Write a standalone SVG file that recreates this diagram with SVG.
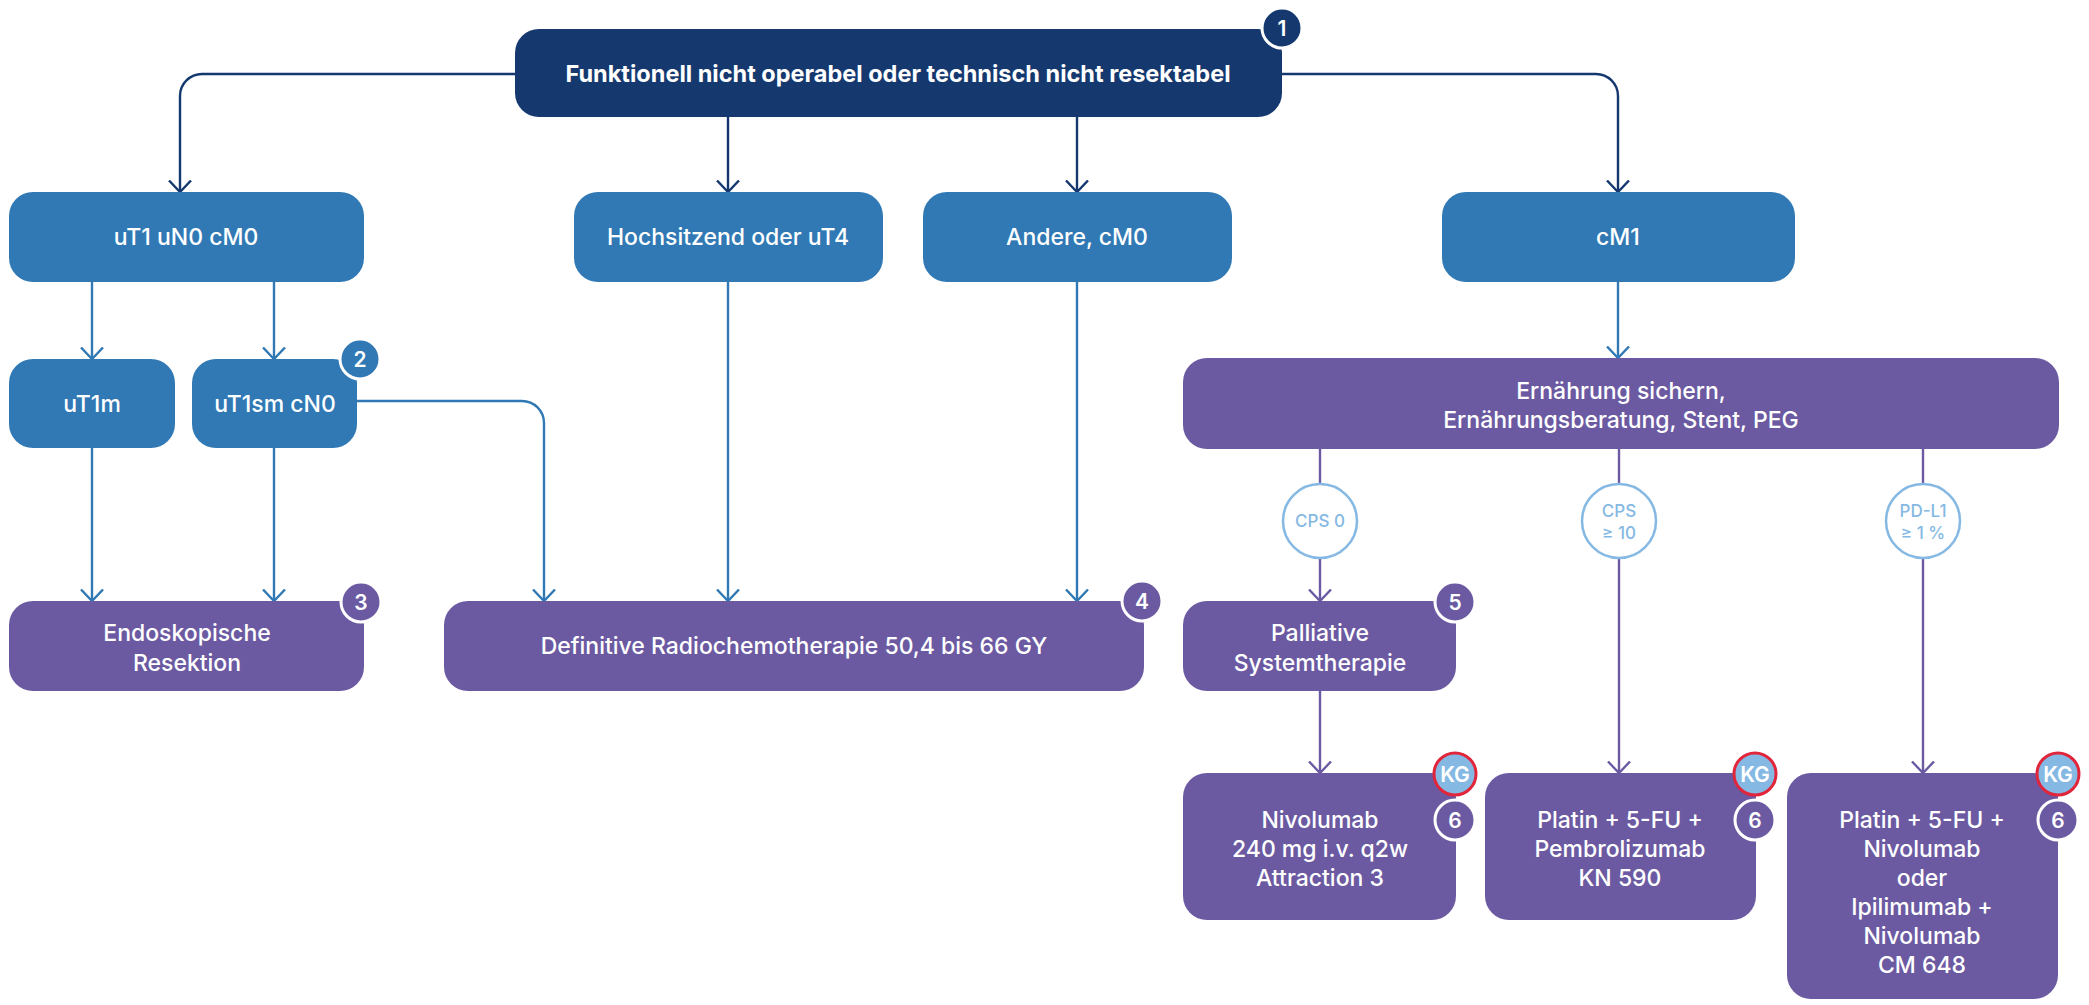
<svg xmlns="http://www.w3.org/2000/svg" width="2089" height="1005" viewBox="0 0 2089 1005">
<defs>
<style>
.t{font-family:Inter,"Liberation Sans",sans-serif;font-size:23px;font-weight:500;fill:#fff;text-anchor:middle}
.tb{font-family:Inter,"Liberation Sans",sans-serif;font-size:23.5px;font-weight:700;fill:#fff;text-anchor:middle}
.navy{fill:#15396f}
.blue{fill:#3079b4}
.purple{fill:#6b5aa2}
.c{fill:none;stroke-width:2.4}
.cn{stroke:#15396f}
.cb{stroke:#3079b4}
.cp{stroke:#6b5aa2}
.bdg{stroke:#fff;stroke-width:3}
.bt{font-family:Inter,"Liberation Sans",sans-serif;font-size:21px;font-weight:600;fill:#fff;text-anchor:middle}
.kg{fill:#85b9e3;stroke:#e1253b;stroke-width:3}
.circ{fill:#fff;stroke:#85b9e3;stroke-width:2.5}
.ct{font-family:Inter,"Liberation Sans",sans-serif;font-size:17px;font-weight:500;fill:#85b9e3;text-anchor:middle}
</style>
<marker id="an" viewBox="0 0 14 24" refX="12.5" refY="12" markerWidth="14" markerHeight="24" markerUnits="userSpaceOnUse" orient="auto"><path d="M1,1 L12.5,12 L1,23" fill="none" stroke="#15396f" stroke-width="2.4"/></marker>
<marker id="ab" viewBox="0 0 14 24" refX="12.5" refY="12" markerWidth="14" markerHeight="24" markerUnits="userSpaceOnUse" orient="auto"><path d="M1,1 L12.5,12 L1,23" fill="none" stroke="#3079b4" stroke-width="2.4"/></marker>
<marker id="ap" viewBox="0 0 14 24" refX="12.5" refY="12" markerWidth="14" markerHeight="24" markerUnits="userSpaceOnUse" orient="auto"><path d="M1,1 L12.5,12 L1,23" fill="none" stroke="#6b5aa2" stroke-width="2.4"/></marker>
</defs>
<rect width="2089" height="1005" fill="#fff"/>

<g id="connectors">
<path class="c cn" d="M515,74 H202 A22,22 0 0 0 180,96 V192" marker-end="url(#an)"/>
<path class="c cn" d="M1282,74 H1596 A22,22 0 0 1 1618,96 V192" marker-end="url(#an)"/>
<path class="c cn" d="M728,117 V192" marker-end="url(#an)"/>
<path class="c cn" d="M1077,117 V192" marker-end="url(#an)"/>
<path class="c cb" d="M92,282 V359" marker-end="url(#ab)"/>
<path class="c cb" d="M274,282 V359" marker-end="url(#ab)"/>
<path class="c cb" d="M92,448 V601" marker-end="url(#ab)"/>
<path class="c cb" d="M274,448 V601" marker-end="url(#ab)"/>
<path class="c cb" d="M357,401 H522 A22,22 0 0 1 544,423 V601" marker-end="url(#ab)"/>
<path class="c cb" d="M728,282 V601" marker-end="url(#ab)"/>
<path class="c cb" d="M1077,282 V601" marker-end="url(#ab)"/>
<path class="c cb" d="M1618,282 V358" marker-end="url(#ab)"/>
<path class="c cp" d="M1320,449 V484"/>
<path class="c cp" d="M1320,558 V601" marker-end="url(#ap)"/>
<path class="c cp" d="M1619,449 V484"/>
<path class="c cp" d="M1619,558 V773" marker-end="url(#ap)"/>
<path class="c cp" d="M1923,449 V484"/>
<path class="c cp" d="M1923,558 V773" marker-end="url(#ap)"/>
<path class="c cp" d="M1320,691 V773" marker-end="url(#ap)"/>
</g>

<g id="n-top">
<rect class="navy" x="515" y="29" width="767" height="88" rx="24"/>
<text class="tb" x="898" y="82">Funktionell nicht operabel oder technisch nicht resektabel</text>
<circle class="navy bdg" cx="1282" cy="28" r="20"/>
<text class="bt" x="1282" y="36">1</text>
</g>

<g id="n-ut1">
<rect class="blue" x="9" y="192" width="355" height="90" rx="24"/>
<text class="t" x="186" y="245">uT1 uN0 cM0</text>
</g>
<g id="n-hoch">
<rect class="blue" x="574" y="192" width="309" height="90" rx="24"/>
<text class="t" x="728" y="245">Hochsitzend oder uT4</text>
</g>
<g id="n-andere">
<rect class="blue" x="923" y="192" width="309" height="90" rx="24"/>
<text class="t" x="1077" y="245">Andere, cM0</text>
</g>
<g id="n-cm1">
<rect class="blue" x="1442" y="192" width="353" height="90" rx="24"/>
<text class="t" x="1618" y="245">cM1</text>
</g>

<g id="n-ut1m">
<rect class="blue" x="9" y="359" width="166" height="89" rx="24"/>
<text class="t" x="92" y="412">uT1m</text>
</g>
<g id="n-ut1sm">
<rect class="blue" x="192" y="359" width="165" height="89" rx="24"/>
<text class="t" x="275" y="412">uT1sm cN0</text>
<circle class="blue bdg" cx="360" cy="359" r="20"/>
<text class="bt" x="360" y="367">2</text>
</g>

<g id="n-endo">
<rect class="purple" x="9" y="601" width="355" height="90" rx="24"/>
<text class="t" x="187" y="641">Endoskopische</text>
<text class="t" x="187" y="671">Resektion</text>
<circle class="purple bdg" cx="361" cy="602" r="20"/>
<text class="bt" x="361" y="610">3</text>
</g>

<g id="n-def">
<rect class="purple" x="444" y="601" width="700" height="90" rx="24"/>
<text class="t" x="794" y="654">Definitive Radiochemotherapie 50,4 bis 66 GY</text>
<circle class="purple bdg" cx="1142" cy="601" r="20"/>
<text class="bt" x="1142" y="609">4</text>
</g>

<g id="n-ern">
<rect class="purple" x="1183" y="358" width="876" height="91" rx="24"/>
<text class="t" x="1621" y="399">Ernährung sichern,</text>
<text class="t" x="1621" y="428">Ernährungsberatung, Stent, PEG</text>
</g>

<g id="c-cps0">
<circle class="circ" cx="1320" cy="521" r="37"/>
<text class="ct" x="1320" y="527">CPS 0</text>
</g>
<g id="c-cps10">
<circle class="circ" cx="1619" cy="521" r="37"/>
<text class="ct" x="1619" y="517">CPS</text>
<text class="ct" x="1619" y="539">≥ 10</text>
</g>
<g id="c-pdl1">
<circle class="circ" cx="1923" cy="521" r="37"/>
<text class="ct" x="1923" y="517">PD-L1</text>
<text class="ct" x="1923" y="539">≥ 1 %</text>
</g>

<g id="n-pall">
<rect class="purple" x="1183" y="601" width="273" height="90" rx="24"/>
<text class="t" x="1320" y="641">Palliative</text>
<text class="t" x="1320" y="671">Systemtherapie</text>
<circle class="purple bdg" cx="1455" cy="602" r="20"/>
<text class="bt" x="1455" y="610">5</text>
</g>

<g id="n-nivo">
<rect class="purple" x="1183" y="773" width="273" height="147" rx="24"/>
<text class="t" x="1320" y="828">Nivolumab</text>
<text class="t" x="1320" y="857">240 mg i.v. q2w</text>
<text class="t" x="1320" y="886">Attraction 3</text>
<circle class="kg" cx="1455" cy="774" r="21"/>
<text class="bt" x="1455" y="782">KG</text>
<circle class="purple bdg" cx="1455" cy="820" r="20"/>
<text class="bt" x="1455" y="828">6</text>
</g>

<g id="n-pembro">
<rect class="purple" x="1485" y="773" width="271" height="147" rx="24"/>
<text class="t" x="1620" y="828">Platin + 5-FU +</text>
<text class="t" x="1620" y="857">Pembrolizumab</text>
<text class="t" x="1620" y="886">KN 590</text>
<circle class="kg" cx="1755" cy="774" r="21"/>
<text class="bt" x="1755" y="782">KG</text>
<circle class="purple bdg" cx="1755" cy="820" r="20"/>
<text class="bt" x="1755" y="828">6</text>
</g>

<g id="n-cm648">
<rect class="purple" x="1787" y="773" width="271" height="226" rx="24"/>
<text class="t" x="1922" y="828">Platin + 5-FU +</text>
<text class="t" x="1922" y="857">Nivolumab</text>
<text class="t" x="1922" y="886">oder</text>
<text class="t" x="1922" y="915">Ipilimumab +</text>
<text class="t" x="1922" y="944">Nivolumab</text>
<text class="t" x="1922" y="973">CM 648</text>
<circle class="kg" cx="2058" cy="774" r="21"/>
<text class="bt" x="2058" y="782">KG</text>
<circle class="purple bdg" cx="2058" cy="820" r="20"/>
<text class="bt" x="2058" y="828">6</text>
</g>
</svg>
